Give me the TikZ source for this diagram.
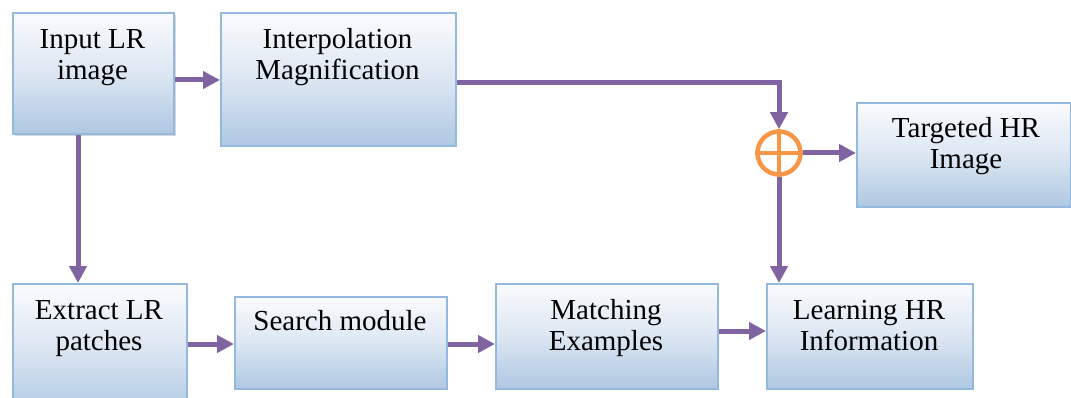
\documentclass[tikz,border=0pt]{standalone}
\usepackage{fontspec}
\setmainfont{Liberation Serif}
\usetikzlibrary{arrows.meta,calc}
\definecolor{boxedge}{HTML}{95B8DE}
\definecolor{boxtop}{HTML}{FAFBFD}
\definecolor{boxmid}{HTML}{DCE6F2}
\definecolor{boxbot}{HTML}{AFC8E2}
\definecolor{arrowpurple}{HTML}{8064A2}
\definecolor{sumorange}{HTML}{F79646}
\tikzset{
  blockbox/.style={draw=boxedge, line width=1.6pt, top color=boxtop, bottom color=boxbot, middle color=boxmid, rectangle, inner sep=0pt},
  boxtext/.style={align=center, anchor=north, inner sep=0pt, font=\fontsize{29}{31}\selectfont},
  flow/.style={draw=arrowpurple, line width=5pt, -{Triangle[length=17pt,width=17pt]}},
  flowline/.style={draw=arrowpurple, line width=5pt},
  sumring/.style={draw=sumorange, line width=4.5pt, fill=white, circle, minimum size=43pt, inner sep=0pt},
}
\begin{document}
\begin{tikzpicture}[x=1pt,y=-1pt]
\useasboundingbox (0,0) rectangle (1071,398);
% shadow of input box
\fill[gray!45, opacity=0.7] (15,15) rectangle (176,136);
% boxes
\node[blockbox, minimum width=161pt, minimum height=121pt, anchor=north west] (in) at (12,12) {};
\node[blockbox, minimum width=235pt, minimum height=133pt, anchor=north west] (interp) at (220,12) {};
\node[blockbox, minimum width=214pt, minimum height=104pt, anchor=north west] (target) at (856,102) {};
\node[blockbox, minimum width=174pt, minimum height=130pt, anchor=north west] (extract) at (12,283) {};
\node[blockbox, minimum width=212pt, minimum height=92pt, anchor=north west] (search) at (234,296) {};
\node[blockbox, minimum width=222pt, minimum height=105pt, anchor=north west] (match) at (495,283) {};
\node[blockbox, minimum width=206pt, minimum height=105pt, anchor=north west] (learn) at (766,283) {};
% texts
\node[boxtext] (inT) at (92.5,26.5) {\strut Input LR\\image};
\node[boxtext] (interpT) at (337.5,26.5) {\strut Interpolation\\Magnification};
\node[boxtext] (targetT) at (966,116) {\strut Targeted HR\\Image};
\node[boxtext] (extractT) at (99,297.5) {\strut Extract LR\\patches};
\node[boxtext] (searchT) at (340,309) {\strut Search module};
\node[boxtext] (matchT) at (606,298) {\strut Matching\\Examples};
\node[boxtext] (learnT) at (869,298) {\strut Learning HR\\Information};
% summing junction
\node[sumring] (sum) at (779,153) {};
\draw[sumorange, line width=4pt] (sum.north) -- (sum.south) (sum.west) -- (sum.east);
% helper coordinates
\coordinate (h80) at (0,80);
\coordinate (h83) at (0,83);
\coordinate (v78) at (78,0);
\coordinate (h344) at (0,344);
\coordinate (h331) at (0,331);
% connectors
\draw[flow] (in.east |- h80) -- (interp.west |- h80);
\draw[flow] (interp.east |- h83) -| (sum.north);
\draw[flow] (sum.east) -- (target.west |- sum.east);
\draw[flow] (sum.south) -- (learn.north -| sum.south);
\draw[flow] (in.south -| v78) -- (extract.north -| v78);
\draw[flow] (extract.east |- h344) -- (search.west |- h344);
\draw[flow] (search.east |- h344) -- (match.west |- h344);
\draw[flow] (match.east |- h331) -- (learn.west |- h331);
\end{tikzpicture}
\end{document}
